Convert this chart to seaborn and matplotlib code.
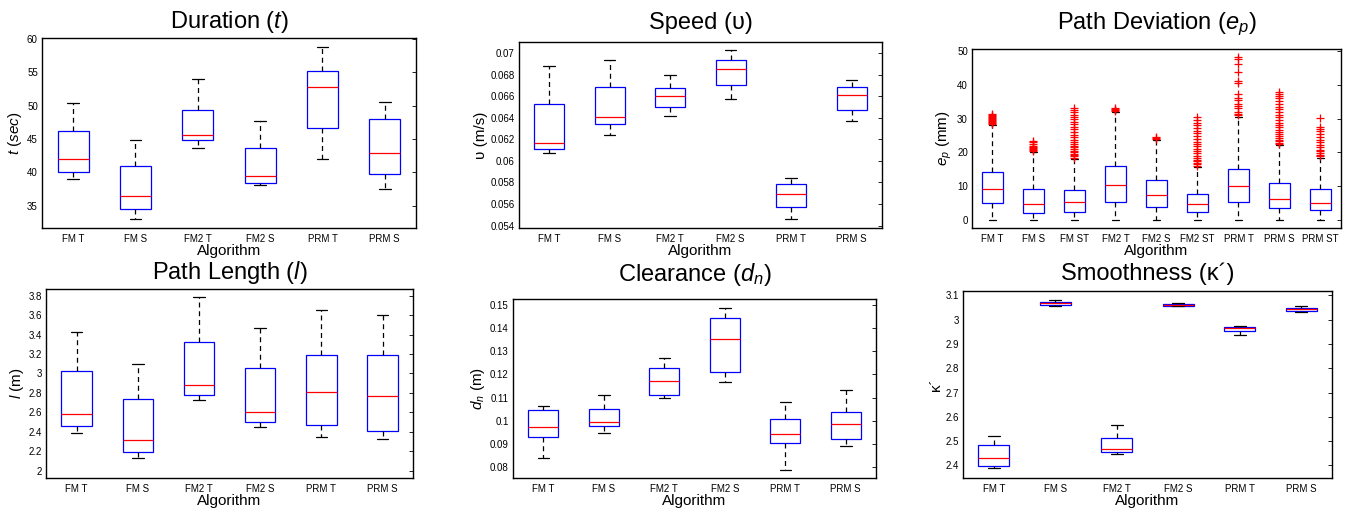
import matplotlib
matplotlib.use('Agg')
import pandas as pd
import matplotlib.pyplot as plt
import seaborn as sns
from matplotlib.ticker import FormatStrFormatter

# categories
algos6 = ['FM T', 'FM S', 'FM2 T', 'FM2 S', 'PRM T', 'PRM S']
algos9 = ['FM T', 'FM S', 'FM ST', 'FM2 T', 'FM2 S', 'FM2 ST', 'PRM T', 'PRM S', 'PRM ST']

# box summaries: lower whisker, q1, median, q3, upper whisker
dur_lo = [39.08, 33.06, 43.62, 38.09, 42.02, 37.49]
dur_q1 = [40.13, 34.55, 44.90, 38.49, 46.70, 39.78]
dur_med = [42.07, 36.54, 45.66, 39.53, 52.78, 42.97]
dur_q3 = [46.20, 40.98, 49.34, 43.67, 55.22, 48.05]
dur_hi = [50.40, 44.90, 53.97, 47.75, 58.80, 50.59]

spd_lo = [0.0607, 0.06243, 0.06416, 0.06574, 0.05459, 0.0637]
spd_q1 = [0.06114, 0.06342, 0.06503, 0.06707, 0.05573, 0.06472]
spd_med = [0.06166, 0.0641, 0.06598, 0.06852, 0.0569, 0.06608]
spd_q3 = [0.06527, 0.06688, 0.06673, 0.06935, 0.05789, 0.06682]
spd_hi = [0.06876, 0.06938, 0.06793, 0.07031, 0.05839, 0.0675]

dev_lo = [0, 0, 0, 0, 0, 0, 0, 0, 0]
dev_q1 = [4.86, 1.98, 2.38, 5.26, 3.77, 2.28, 5.16, 3.57, 2.78]
dev_med = [9.23, 4.66, 5.36, 10.42, 7.44, 4.56, 10.02, 6.05, 5.06]
dev_q3 = [14.19, 9.13, 8.73, 16.07, 11.81, 7.64, 15.18, 10.91, 9.03]
dev_hi = [27.98, 20.14, 18.06, 31.94, 23.81, 15.67, 30.56, 22.12, 18.45]
dev_out = {
    'FM T': [28.4, 28.7, 29.0, 29.3, 29.6, 29.9, 30.2, 30.5, 30.8, 31.1, 31.4],
    'FM S': [20.5, 20.8, 21.1, 21.4, 21.7, 22.0, 22.5, 23.0, 23.4],
    'FM ST': [18.4, 18.8, 19.2, 19.6, 20.0, 20.5, 21.0, 21.5, 22.0, 22.6, 23.2, 23.8, 24.5,
              25.2, 26.0, 26.8, 27.5, 28.3, 29.0, 29.8, 30.5, 31.2, 32.0, 32.6, 33.2],
    'FM2 T': [32.3, 32.6, 32.9, 33.2],
    'FM2 S': [24.1, 24.4, 24.7],
    'FM2 ST': [16.0, 16.4, 16.8, 17.3, 17.8, 18.4, 19.0, 19.7, 20.4, 21.1, 21.8, 22.5, 23.2,
               24.0, 24.8, 25.6, 26.4, 27.2, 28.0, 28.8, 29.6, 30.4],
    'PRM T': [31.0, 31.5, 32.0, 33.2, 33.7, 34.5, 35.5, 36.2, 37.2, 40.7, 41.3, 44.0, 46.1,
              47.6, 48.3],
    'PRM S': [22.5, 22.9, 23.3, 23.7, 24.2, 24.8, 25.4, 26.0, 26.7, 27.4, 28.1, 28.8, 29.6,
              30.4, 31.2, 32.0, 32.8, 33.6, 34.4, 35.2, 36.0, 36.7, 37.3, 37.9],
    'PRM ST': [18.9, 19.3, 19.8, 20.3, 20.8, 21.5, 22.3, 23.0, 23.8, 24.6, 25.4, 26.2, 27.0,
               27.6, 30.3],
}

len_lo = [2.386, 2.133, 2.731, 2.454, 2.342, 2.321]
len_q1 = [2.461, 2.195, 2.779, 2.499, 2.468, 2.413]
len_med = [2.581, 2.314, 2.881, 2.601, 2.813, 2.765]
len_q3 = [3.028, 2.734, 3.325, 3.059, 3.185, 3.192]
len_hi = [3.428, 3.093, 3.783, 3.469, 3.653, 3.605]

clr_lo = [0.08387, 0.09463, 0.10998, 0.11686, 0.07885, 0.08889]
clr_q1 = [0.09291, 0.09793, 0.11098, 0.12102, 0.09032, 0.09205]
clr_med = [0.09735, 0.09936, 0.11701, 0.13522, 0.09448, 0.0985]
clr_q3 = [0.10481, 0.10496, 0.12289, 0.14441, 0.10094, 0.10395]
clr_hi = [0.10653, 0.11098, 0.1269, 0.14885, 0.10811, 0.11313]

smo_lo = [2.389, 3.0562, 2.448, 3.0548, 2.9356, 3.0329]
smo_q1 = [2.3986, 3.0616, 2.455, 3.0562, 2.9548, 3.0356]
smo_med = [2.430, 3.0671, 2.4685, 3.0616, 2.9644, 3.0425]
smo_q3 = [2.482, 3.074, 2.511, 3.0658, 2.970, 3.0493]
smo_hi = [2.5205, 3.0795, 2.5644, 3.0671, 2.9726, 3.0548]

sns.set_style('white')
plt.rcParams['font.family'] = ['Liberation Sans', 'DejaVu Sans']
plt.rcParams['mathtext.fontset'] = 'custom'
plt.rcParams['mathtext.rm'] = 'Liberation Sans'
plt.rcParams['mathtext.it'] = 'Liberation Sans:italic'
for k in ['text.color', 'axes.labelcolor', 'xtick.color', 'ytick.color']:
    plt.rcParams[k] = 'black'


def draw(ax, cats, lo, q1, med, q3, hi, fliers=None):
    rows = []
    for c, a, b, m, d, e in zip(cats, lo, q1, med, q3, hi):
        for v in (a, b, m, d, e):
            rows.append((c, v))
    df = pd.DataFrame(rows, columns=['alg', 'val'])
    sns.boxplot(data=df, x='alg', y='val', order=cats, ax=ax, whis=(0, 100), width=0.5,
                color='white', linecolor='blue', linewidth=0.9,
                medianprops={'color': 'red'},
                whiskerprops={'color': 'black', 'linestyle': (0, (4, 3))},
                capprops={'color': 'black'}, capwidths=0.19)
    if fliers:
        fx, fy = [], []
        for c in cats:
            for v in fliers.get(c, []):
                fx.append(c)
                fy.append(v)
        sns.stripplot(x=fx, y=fy, order=cats, ax=ax, jitter=False, marker='+',
                      color='red', size=5.5, linewidth=0.9)
    ax.set_xlim(-0.5, len(cats) - 0.5)
    ax.set_xlabel('Algorithm', fontsize=11, labelpad=0)
    ax.tick_params(axis='x', length=0, labelsize=7, pad=4)
    ax.tick_params(axis='y', direction='in', right=True, length=3, width=0.6,
                   labelsize=7, pad=3)
    ax.yaxis.set_major_formatter(FormatStrFormatter('%g'))
    for s in ax.spines.values():
        s.set_visible(True)
        s.set_color('black')
        s.set_linewidth(1.0)


fig = plt.figure(figsize=(13.5, 5.12), dpi=100)

ax1 = fig.add_axes([0.0311, 0.5547, 0.2770, 0.3711])
draw(ax1, algos6, dur_lo, dur_q1, dur_med, dur_q3, dur_hi)
ax1.set_ylim(31.7, 60.1)
ax1.set_yticks([35, 40, 45, 50, 55, 60])
ax1.set_title('Duration ($\\mathit{t}$)', fontsize=17, pad=7)
ax1.set_ylabel('$\\mathit{t\\ (sec)}$', fontsize=11, labelpad=2)

ax2 = fig.add_axes([0.3844, 0.5547, 0.2689, 0.3633])
draw(ax2, algos6, spd_lo, spd_q1, spd_med, spd_q3, spd_hi)
ax2.set_ylim(0.05378, 0.07102)
ax2.set_yticks([0.054, 0.056, 0.058, 0.06, 0.062, 0.064, 0.066, 0.068, 0.07])
ax2.set_title('Speed (\u03c5)', fontsize=17, pad=9)
ax2.set_ylabel('\u03c5 (m/s)', fontsize=11, labelpad=2)

ax3 = fig.add_axes([0.7200, 0.5547, 0.2733, 0.3496])
draw(ax3, algos9, dev_lo, dev_q1, dev_med, dev_q3, dev_hi, dev_out)
ax3.set_ylim(-2.48, 50.7)
ax3.set_yticks([0, 10, 20, 30, 40, 50])
ax3.set_title('Path Deviation ($\\mathit{e_p}$)', fontsize=17, pad=14)
ax3.set_ylabel('$\\mathit{e_p}$ (mm)', fontsize=11, labelpad=2)

ax4 = fig.add_axes([0.0341, 0.0664, 0.2719, 0.3691])
draw(ax4, algos6, len_lo, len_q1, len_med, len_q3, len_hi)
ax4.set_ylim(1.925, 3.868)
ax4.set_yticks([2, 2.2, 2.4, 2.6, 2.8, 3, 3.2, 3.4, 3.6, 3.8])
ax4.set_title('Path Length ($\\mathit{l}$)', fontsize=17, pad=7)
ax4.set_ylabel('$\\mathit{l}$ (m)', fontsize=11, labelpad=2)

ax5 = fig.add_axes([0.3800, 0.0664, 0.2689, 0.3496])
draw(ax5, algos6, clr_lo, clr_q1, clr_med, clr_q3, clr_hi)
ax5.set_ylim(0.07526, 0.15258)
ax5.set_yticks([0.08, 0.09, 0.1, 0.11, 0.12, 0.13, 0.14, 0.15])
ax5.set_title('Clearance ($\\mathit{d_n}$)', fontsize=17, pad=13)
ax5.set_ylabel('$\\mathit{d_n}$ (m)', fontsize=11, labelpad=2)

ax6 = fig.add_axes([0.7133, 0.0664, 0.2733, 0.3652])
draw(ax6, algos6, smo_lo, smo_q1, smo_med, smo_q3, smo_hi)
ax6.set_ylim(2.348, 3.1178)
ax6.set_yticks([2.4, 2.5, 2.6, 2.7, 2.8, 2.9, 3, 3.1])
ax6.set_title('Smoothness (\u03ba\u00b4)', fontsize=17, pad=8)
ax6.set_ylabel('\u03ba\u00b4', fontsize=11, labelpad=2)

fig.savefig('out.png', dpi=100)
